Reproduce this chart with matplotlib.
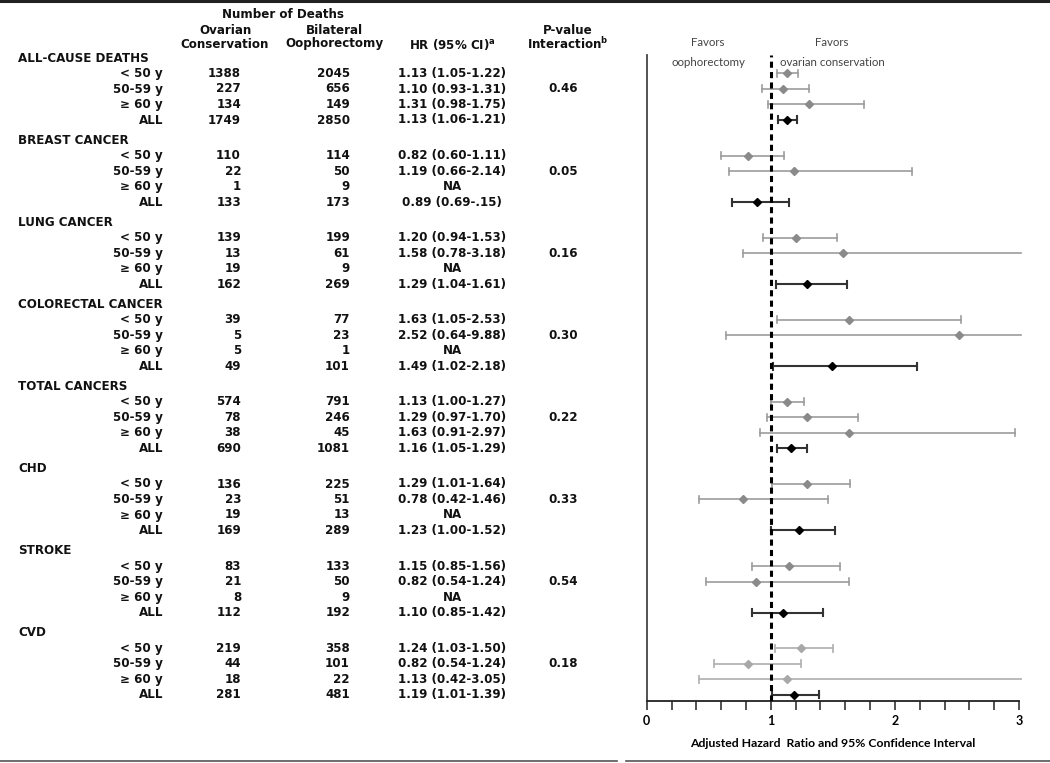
import numpy as np
import matplotlib
matplotlib.use("Agg")
import matplotlib.pyplot as plt

# --- data ---
outcomes = ["ALL-CAUSE DEATHS", "BREAST CANCER", "LUNG CANCER", "COLORECTAL CANCER",
            "TOTAL CANCERS", "CHD", "STROKE", "CVD"]
age_groups = ["< 50 y", "50-59 y", "\u2265 60 y", "ALL"]

n_ovarian = [[1388, 227, 134, 1749],
             [110, 22, 1, 133],
             [139, 13, 19, 162],
             [39, 5, 5, 49],
             [574, 78, 38, 690],
             [136, 23, 19, 169],
             [83, 21, 8, 112],
             [219, 44, 18, 281]]
n_bilateral = [[2045, 656, 149, 2850],
               [114, 50, 9, 173],
               [199, 61, 9, 269],
               [77, 23, 1, 101],
               [791, 246, 45, 1081],
               [225, 51, 13, 289],
               [133, 50, 9, 192],
               [358, 101, 22, 481]]
hr_text = [["1.13 (1.05-1.22)", "1.10 (0.93-1.31)", "1.31 (0.98-1.75)", "1.13 (1.06-1.21)"],
           ["0.82 (0.60-1.11)", "1.19 (0.66-2.14)", "NA", "0.89 (0.69-.15)"],
           ["1.20 (0.94-1.53)", "1.58 (0.78-3.18)", "NA", "1.29 (1.04-1.61)"],
           ["1.63 (1.05-2.53)", "2.52 (0.64-9.88)", "NA", "1.49 (1.02-2.18)"],
           ["1.13 (1.00-1.27)", "1.29 (0.97-1.70)", "1.63 (0.91-2.97)", "1.16 (1.05-1.29)"],
           ["1.29 (1.01-1.64)", "0.78 (0.42-1.46)", "NA", "1.23 (1.00-1.52)"],
           ["1.15 (0.85-1.56)", "0.82 (0.54-1.24)", "NA", "1.10 (0.85-1.42)"],
           ["1.24 (1.03-1.50)", "0.82 (0.54-1.24)", "1.13 (0.42-3.05)", "1.19 (1.01-1.39)"]]
p_interaction = ["0.46", "0.05", "0.16", "0.30", "0.22", "0.33", "0.54", "0.18"]

# values as drawn in the forest plot (NaN = not estimated)
nan = np.nan
hr = [[1.13, 1.10, 1.31, 1.13],
      [0.82, 1.19, nan, 0.89],
      [1.20, 1.58, nan, 1.29],
      [1.63, 2.52, nan, 1.49],
      [1.13, 1.29, 1.63, 1.16],
      [1.29, 0.78, nan, 1.23],
      [1.15, 0.88, nan, 1.10],
      [1.24, 0.82, 1.13, 1.19]]
ci_lo = [[1.05, 0.93, 0.98, 1.06],
         [0.60, 0.66, nan, 0.69],
         [0.94, 0.78, nan, 1.04],
         [1.05, 0.64, nan, 1.02],
         [1.00, 0.97, 0.91, 1.05],
         [1.01, 0.42, nan, 1.00],
         [0.85, 0.48, nan, 0.85],
         [1.03, 0.54, 0.42, 1.01]]
ci_hi = [[1.22, 1.31, 1.75, 1.21],
         [1.11, 2.14, nan, 1.15],
         [1.53, 3.18, nan, 1.61],
         [2.53, 9.88, nan, 2.18],
         [1.27, 1.70, 2.97, 1.29],
         [1.64, 1.46, nan, 1.52],
         [1.56, 1.63, nan, 1.42],
         [1.50, 1.24, 3.05, 1.39]]

W, H = 1050, 763
fig = plt.figure(figsize=(W / 100, H / 100), dpi=100)

# whole-figure axes in pixel coordinates for the table
tab = fig.add_axes([0, 0, 1, 1])
tab.set_xlim(0, W)
tab.set_ylim(H, 0)
tab.axis("off")

fs = 8.6
bold = dict(fontsize=fs, fontweight="bold", family="DejaVu Sans", color="#111111")

def row_y(b, k=None):
    head = 58 + 82.1 * b
    if k is None:
        return head
    return head + 15.5 + 15.5 * k

# header
tab.text(283, 15, "Number of Deaths", ha="center", va="center", **bold)
tab.text(225, 30, "Ovarian", ha="center", va="center", **bold)
tab.text(225, 44, "Conservation", ha="center", va="center", **bold)
tab.text(334, 30, "Bilateral", ha="center", va="center", **bold)
tab.text(334, 44, "Oophorectomy", ha="center", va="center", **bold)
tab.text(452, 44, "HR (95% CI)$^{\\mathregular{a}}$", ha="center", va="center", **bold)
tab.text(568, 30, "P-value", ha="center", va="center", **bold)
tab.text(568, 44, "Interaction$^{\\mathregular{b}}$", ha="center", va="center", **bold)

for b, name in enumerate(outcomes):
    tab.text(18, row_y(b), name, ha="left", va="center", **bold)
    for k, age in enumerate(age_groups):
        y = row_y(b, k)
        tab.text(163, y, age, ha="right", va="center", **bold)
        tab.text(241, y, str(n_ovarian[b][k]), ha="right", va="center", **bold)
        tab.text(350, y, str(n_bilateral[b][k]), ha="right", va="center", **bold)
        tab.text(452, y, hr_text[b][k], ha="center", va="center", **bold)
    tab.text(563, row_y(b, 1), p_interaction[b], ha="center", va="center", **bold)

# rules
tab.plot([0, W], [1, 1], color="#222222", lw=2.2)
tab.plot([0, 617], [761, 761], color="#555555", lw=1.2)
tab.plot([626, W], [761, 761], color="#555555", lw=1.2)

# forest plot
x0, x3 = 646.7, 1019.0
ytop, ybot = 55, 701
ax = fig.add_axes([x0 / W, 1 - ybot / H, (x3 - x0) / W, (ybot - ytop) / H])
ax.set_xlim(0, 3)
ax.set_ylim(ybot, ytop)
ax.patch.set_alpha(0)

for b in range(len(outcomes)):
    for k in range(len(age_groups)):
        if np.isnan(hr[b][k]):
            continue
        y = row_y(b, k)
        if k == 3:
            lc, mc, lw, ms = "#333333", "black", 1.5, 4.5
        elif b == 7:
            lc, mc, lw, ms = "#b4b4b4", "#a8a8a8", 1.3, 4
        else:
            lc, mc, lw, ms = "#9c9c9c", "#8a8a8a", 1.2, 4
        lo = ci_lo[b][k]
        hi = ci_hi[b][k]
        ax.plot([lo, min(hi, 3.02)], [y, y], color=lc, lw=lw, clip_on=False, zorder=2)
        ax.plot([lo, lo], [y - 3.5, y + 3.5], color=lc, lw=lw, zorder=2)
        if hi <= 3:
            ax.plot([hi, hi], [y - 3.5, y + 3.5], color=lc, lw=lw, zorder=2)
        ax.plot(hr[b][k], y, marker="D", color=mc, ms=ms, zorder=3)

ax.axvline(1, color="black", lw=2.2, ls=(0, (2, 1.4)), zorder=4)

for s in ["top", "right"]:
    ax.spines[s].set_visible(False)
ax.spines["left"].set_color("#444444")
ax.spines["bottom"].set_color("#222222")
ax.spines["left"].set_linewidth(1.3)
ax.spines["bottom"].set_linewidth(1.3)
ax.set_yticks([])
ax.set_xticks([0, 1, 2, 3])
ax.set_xticks(np.arange(0, 3.01, 0.2), minor=True)
ax.tick_params(axis="x", which="both", length=6.5, width=1.2, color="#333333", direction="out")
ax.set_xticklabels(["0", "1", "2", "3"], fontsize=9, fontweight="bold", family="Lato")
ax.set_xlabel("Adjusted Hazard  Ratio and 95% Confidence Interval", fontsize=8.8,
              fontweight="bold", family="Lato", labelpad=8)

gs = dict(fontsize=8.3, family="Lato", color="#444444", ha="center", va="center")
tab.text(708, 43, "Favors", **gs)
tab.text(708, 62, "oophorectomy", **gs)
tab.text(832, 43, "Favors", **gs)
tab.text(832, 62, "ovarian conservation", **gs)

fig.savefig("out.png", dpi=100)
